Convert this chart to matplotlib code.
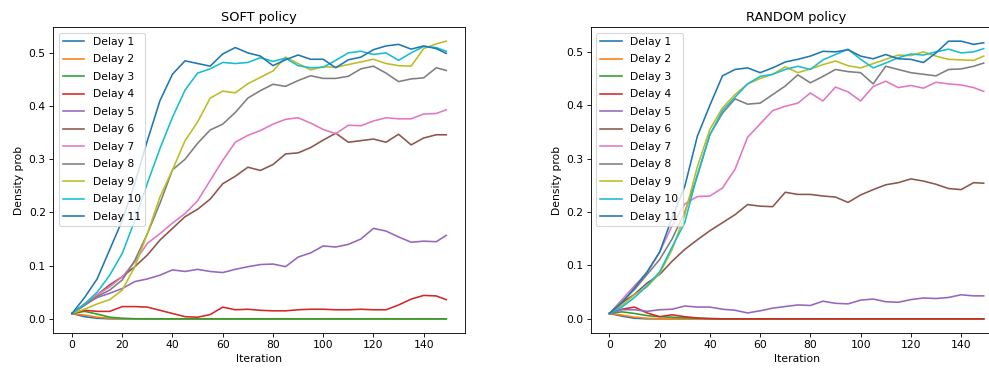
import numpy as np
import matplotlib
matplotlib.use("Agg")
import matplotlib.pyplot as plt

iters = [0, 5, 10, 15, 20, 25, 30, 35, 40, 45, 50, 55, 60, 65, 70, 75,
         80, 85, 90, 95, 100, 105, 110, 115, 120, 125, 130, 135, 140, 145, 149]

labels = [f"Delay {i}" for i in range(1, 12)]

soft_d1 = [0.010, 0.004, 0.001] + [0.0] * 28
soft_d2 = [0.010, 0.007, 0.003, 0.001, 0.0003] + [0.0] * 26
soft_d3 = [0.010, 0.014, 0.009, 0.003, 0.001, 0.0002] + [0.0] * 25
soft_d4 = [0.010, 0.016, 0.014, 0.014, 0.023, 0.023, 0.022, 0.016, 0.010, 0.004, 0.003,
           0.008, 0.022, 0.017, 0.018, 0.016, 0.015, 0.015, 0.017, 0.018, 0.018, 0.017,
           0.017, 0.018, 0.017, 0.017, 0.026, 0.037, 0.044, 0.043, 0.036]
soft_d5 = [0.010, 0.026, 0.040, 0.048, 0.057, 0.070, 0.075, 0.082, 0.092, 0.089, 0.093,
           0.089, 0.087, 0.093, 0.098, 0.102, 0.103, 0.098, 0.116, 0.124, 0.137, 0.135,
           0.140, 0.150, 0.170, 0.165, 0.154, 0.144, 0.146, 0.145, 0.157]
soft_d6 = [0.010, 0.028, 0.045, 0.064, 0.079, 0.098, 0.120, 0.148, 0.170, 0.192, 0.206,
           0.225, 0.254, 0.268, 0.285, 0.279, 0.290, 0.310, 0.312, 0.322, 0.336, 0.349,
           0.332, 0.335, 0.338, 0.332, 0.347, 0.327, 0.340, 0.346, 0.346]
soft_d7 = [0.010, 0.028, 0.045, 0.060, 0.079, 0.107, 0.142, 0.160, 0.180, 0.198, 0.222,
           0.260, 0.298, 0.332, 0.345, 0.354, 0.366, 0.375, 0.378, 0.368, 0.356, 0.348,
           0.364, 0.363, 0.372, 0.378, 0.376, 0.376, 0.385, 0.386, 0.393]
soft_d8 = [0.010, 0.025, 0.042, 0.054, 0.073, 0.110, 0.160, 0.217, 0.280, 0.300, 0.330,
           0.355, 0.366, 0.388, 0.415, 0.429, 0.441, 0.437, 0.448, 0.457, 0.452, 0.452,
           0.456, 0.470, 0.475, 0.462, 0.446, 0.451, 0.453, 0.472, 0.467]
soft_d9 = [0.010, 0.018, 0.028, 0.036, 0.054, 0.098, 0.160, 0.229, 0.280, 0.335, 0.370,
           0.415, 0.428, 0.425, 0.442, 0.454, 0.466, 0.492, 0.480, 0.468, 0.474, 0.473,
           0.478, 0.483, 0.488, 0.480, 0.476, 0.475, 0.508, 0.517, 0.522]
soft_d10 = [0.010, 0.028, 0.050, 0.082, 0.123, 0.185, 0.255, 0.320, 0.379, 0.430, 0.462,
            0.470, 0.482, 0.480, 0.482, 0.491, 0.484, 0.490, 0.476, 0.472, 0.473, 0.486,
            0.500, 0.503, 0.497, 0.500, 0.486, 0.500, 0.512, 0.510, 0.503]
soft_d11 = [0.010, 0.040, 0.075, 0.130, 0.185, 0.255, 0.335, 0.410, 0.460, 0.485, 0.480,
            0.475, 0.498, 0.510, 0.500, 0.494, 0.476, 0.487, 0.496, 0.488, 0.488, 0.472,
            0.487, 0.492, 0.506, 0.513, 0.516, 0.507, 0.513, 0.508, 0.499]

rand_d1 = [0.010, 0.005, 0.001] + [0.0] * 28
rand_d2 = [0.010, 0.007, 0.003, 0.001, 0.0003] + [0.0] * 26
rand_d3 = [0.010, 0.013, 0.010, 0.006, 0.004, 0.003, 0.002, 0.001, 0.0003] + [0.0] * 22
rand_d4 = [0.010, 0.018, 0.022, 0.011, 0.004, 0.0075, 0.004, 0.0015, 0.0005] + [0.0] * 22
rand_d5 = [0.010, 0.017, 0.017, 0.014, 0.017, 0.018, 0.024, 0.022, 0.022, 0.018, 0.016,
           0.011, 0.015, 0.020, 0.023, 0.026, 0.025, 0.033, 0.029, 0.028, 0.035, 0.037,
           0.032, 0.031, 0.036, 0.039, 0.038, 0.040, 0.045, 0.043, 0.043]
rand_d6 = [0.010, 0.030, 0.046, 0.067, 0.083, 0.108, 0.130, 0.148, 0.165, 0.180, 0.195,
           0.214, 0.211, 0.210, 0.237, 0.233, 0.233, 0.230, 0.228, 0.218, 0.232, 0.242,
           0.251, 0.255, 0.262, 0.258, 0.252, 0.244, 0.242, 0.255, 0.254]
rand_d7 = [0.010, 0.036, 0.062, 0.086, 0.125, 0.175, 0.215, 0.229, 0.230, 0.245, 0.280,
           0.340, 0.365, 0.390, 0.398, 0.404, 0.423, 0.408, 0.434, 0.425, 0.408, 0.435,
           0.445, 0.433, 0.437, 0.432, 0.443, 0.440, 0.438, 0.433, 0.426]
rand_d8 = [0.010, 0.032, 0.055, 0.083, 0.111, 0.150, 0.200, 0.267, 0.345, 0.385, 0.412,
           0.402, 0.404, 0.420, 0.436, 0.457, 0.442, 0.454, 0.467, 0.463, 0.461, 0.440,
           0.473, 0.467, 0.461, 0.458, 0.455, 0.467, 0.468, 0.473, 0.479]
rand_d9 = [0.010, 0.025, 0.045, 0.060, 0.085, 0.130, 0.195, 0.285, 0.355, 0.395, 0.420,
           0.440, 0.450, 0.458, 0.472, 0.461, 0.468, 0.476, 0.483, 0.474, 0.470, 0.478,
           0.486, 0.494, 0.493, 0.500, 0.492, 0.486, 0.485, 0.484, 0.492]
rand_d10 = [0.010, 0.022, 0.040, 0.062, 0.088, 0.135, 0.180, 0.270, 0.345, 0.390, 0.415,
            0.440, 0.454, 0.458, 0.467, 0.473, 0.467, 0.485, 0.495, 0.505, 0.486, 0.470,
            0.479, 0.489, 0.496, 0.494, 0.500, 0.505, 0.498, 0.500, 0.506]
rand_d11 = [0.010, 0.030, 0.058, 0.088, 0.125, 0.190, 0.248, 0.342, 0.400, 0.455, 0.467,
            0.470, 0.461, 0.470, 0.481, 0.486, 0.492, 0.501, 0.500, 0.504, 0.492, 0.487,
            0.495, 0.487, 0.486, 0.480, 0.498, 0.520, 0.520, 0.514, 0.517]

soft = [soft_d1, soft_d2, soft_d3, soft_d4, soft_d5, soft_d6,
        soft_d7, soft_d8, soft_d9, soft_d10, soft_d11]
rand = [rand_d1, rand_d2, rand_d3, rand_d4, rand_d5, rand_d6,
        rand_d7, rand_d8, rand_d9, rand_d10, rand_d11]

DPI = 77
fig = plt.figure(figsize=(989.01 / DPI, 372.01 / DPI), dpi=DPI)

ax_h = 305.4 / 372
ax_y = 39.3 / 372
ax_w = 411.7 / 989
ax_soft = fig.add_axes([53.3 / 989, ax_y, ax_w, ax_h])
ax_rand = fig.add_axes([590.7 / 989, ax_y, ax_w, ax_h])

for ax, series, title in [(ax_soft, soft, "SOFT policy"), (ax_rand, rand, "RANDOM policy")]:
    for vals, lab in zip(series, labels):
        ax.plot(iters, vals, label=lab)
    ax.set_title(title)
    ax.set_xlabel("Iteration")
    ax.set_ylabel("Density prob")
    ax.set_xticks(np.arange(0, 141, 20))
    ax.legend(loc="upper left", labelspacing=0.7)

fig.savefig("out.png", dpi=DPI)
